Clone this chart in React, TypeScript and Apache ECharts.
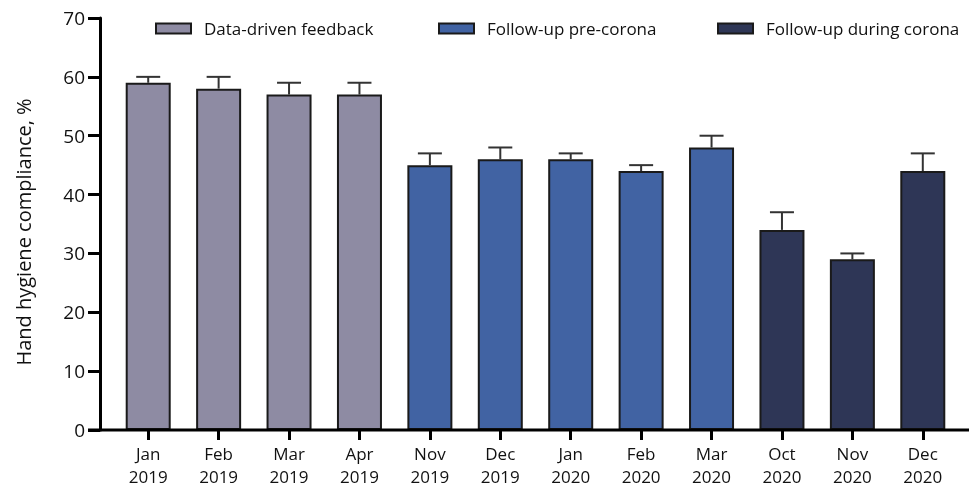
import React, { useEffect, useRef } from "react";
import * as echarts from "echarts";

const months = ["Jan", "Feb", "Mar", "Apr", "Nov", "Dec", "Jan", "Feb", "Mar", "Oct", "Nov", "Dec"];
const years = ["2019", "2019", "2019", "2019", "2019", "2019", "2020", "2020", "2020", "2020", "2020", "2020"];
const means = [59, 58, 57, 57, 45, 46, 46, 44, 48, 34, 29, 44];
const errors = [1, 2, 2, 2, 2, 2, 1, 1, 2, 3, 1, 3];
const groupOf = [0, 0, 0, 0, 1, 1, 1, 1, 1, 2, 2, 2];
const groupNames = ["Data-driven feedback", "Follow-up pre-corona", "Follow-up during corona"];
const groupColors = ["#8e8ba3", "#4163a3", "#2e3656"];
const yTicks = { min: 0, max: 70, interval: 10 };

const FONT = "Open Sans";

export default function App() {
  const ref = useRef<HTMLDivElement>(null);
  useEffect(() => {
    if (!ref.current) return;
    const chart = echarts.init(ref.current, undefined, { renderer: "svg" });
    const categories = months.map((m, i) => `${m}\n${years[i]}`);
    const barSeries = groupNames.map((name, g) => ({
      name,
      type: "bar",
      barWidth: 45,
      barGap: "-100%",
      itemStyle: { color: groupColors[g], borderColor: "#1a1a1a", borderWidth: 2 },
      data: means.map((v, i) => (groupOf[i] === g ? v : "-")),
    }));
    const errData = means.map((v, i) => [i, v, v + errors[i]]);
    const legendLefts = [150, 433, 712];
    chart.setOption({
      animation: false,
      textStyle: { fontFamily: FONT },
      grid: { left: 113, right: 11, top: 18, bottom: 62 },
      legend: groupNames.map((n, g) => ({
        data: [n],
        left: legendLefts[g],
        top: 15,
        icon: "rect",
        itemWidth: 35,
        itemHeight: 10,
        itemGap: 18,
        textStyle: { fontFamily: FONT, fontSize: 17, color: "#111", padding: [0, 0, 0, 8] },
        selectedMode: false,
      })),
      xAxis: {
        type: "category",
        data: categories,
        axisLine: { show: false },
        axisTick: { show: true, alignWithLabel: true, length: 10, lineStyle: { color: "#000", width: 3 } },
        axisLabel: { color: "#111", fontSize: 17, fontFamily: FONT, margin: 12, lineHeight: 23 },
      },
      yAxis: {
        type: "value",
        min: yTicks.min,
        max: yTicks.max,
        interval: yTicks.interval,
        offset: 13,
        name: "Hand hygiene compliance, %",
        nameLocation: "middle",
        nameGap: 67,
        nameTextStyle: { fontFamily: FONT, fontSize: 20, color: "#111", padding: [0, 16, 0, 0] },
        axisLine: { show: true, lineStyle: { color: "#000", width: 3 } },
        axisTick: { show: true, length: 12, lineStyle: { color: "#000", width: 3 } },
        axisLabel: { color: "#111", fontSize: 19, fontFamily: FONT, margin: 15 },
        splitLine: { show: false },
      },
      graphic: [
        {
          type: "line",
          shape: { x1: 88, y1: 430, x2: 969, y2: 430 },
          style: { stroke: "#000", lineWidth: 3 },
          z: 100,
        },
      ],
      series: [
        ...barSeries,
        {
          type: "custom",
          name: "err",
          data: errData,
          z: 1,
          renderItem: (params: any, api: any) => {
            const x = api.value(0);
            const base = api.coord([x, api.value(1)]);
            const top = api.coord([x, api.value(2)]);
            const half = 12;
            const style = { stroke: "#333", lineWidth: 2 };
            return {
              type: "group",
              children: [
                { type: "line", shape: { x1: base[0], y1: base[1], x2: top[0], y2: top[1] }, style },
                { type: "line", shape: { x1: top[0] - half, y1: top[1], x2: top[0] + half, y2: top[1] }, style },
              ],
            };
          },
        },
      ],
    });
    return () => chart.dispose();
  }, []);
  return <div ref={ref} style={{ position: "fixed", left: 0, top: 0, width: 969, height: 492 }} />;
}
